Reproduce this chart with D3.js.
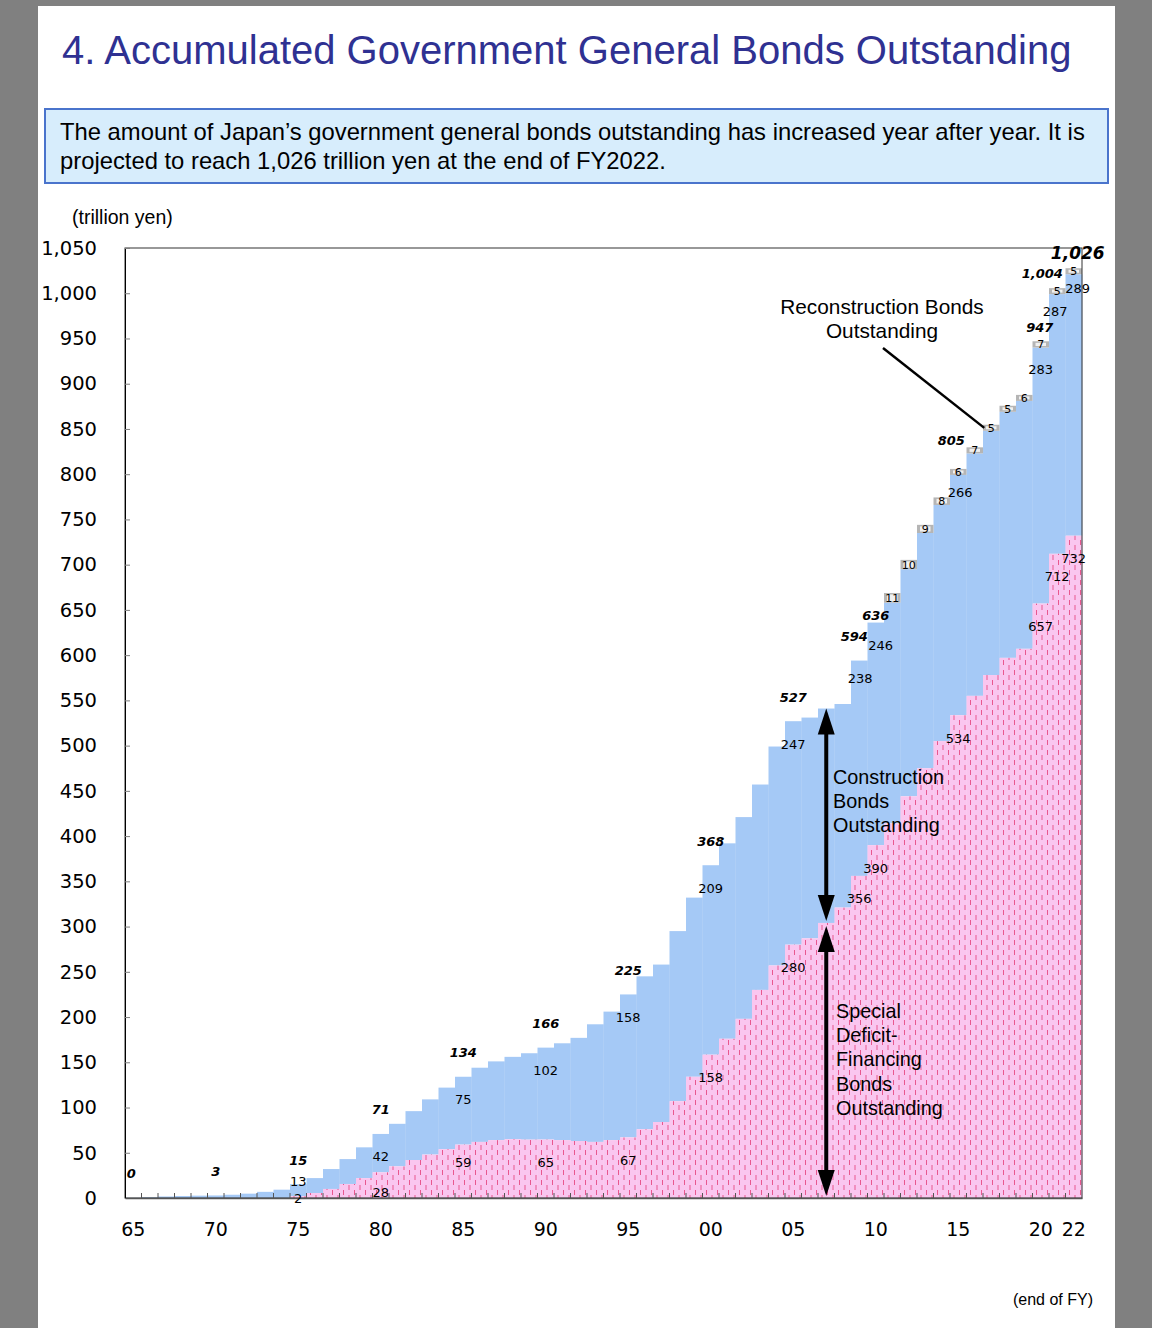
<!DOCTYPE html>
<html>
<head>
<meta charset="utf-8">
<script src="https://cdn.jsdelivr.net/npm/d3@7"></script>
<style>
  html, body { margin: 0; padding: 0; background: #808080; }
  svg { display: block; }
</style>
</head>
<body>
<svg id="chart" width="1152" height="1328"></svg>
<script>
// fiscal years, end of FY
const years = [1965, 1966, 1967, 1968, 1969, 1970, 1971, 1972, 1973, 1974,
  1975, 1976, 1977, 1978, 1979, 1980, 1981, 1982, 1983, 1984,
  1985, 1986, 1987, 1988, 1989, 1990, 1991, 1992, 1993, 1994,
  1995, 1996, 1997, 1998, 1999, 2000, 2001, 2002, 2003, 2004,
  2005, 2006, 2007, 2008, 2009, 2010, 2011, 2012, 2013, 2014,
  2015, 2016, 2017, 2018, 2019, 2020, 2021, 2022];

// special deficit-financing bonds (trillion yen)
const deficitBonds = [0, 0, 0, 0, 0, 0, 0, 0, 0, 0,
  2.1, 5.5, 10, 15.5, 22, 28.4, 35, 42, 48, 54,
  59, 62, 64, 65, 64.5, 64.6, 64, 63, 62, 64,
  67, 76, 84, 107, 134, 158.4, 176, 198, 230, 257,
  280, 287, 304, 321, 356, 390, 414, 444, 475, 505,
  533.6, 555, 578, 597, 607, 657, 712, 732];

// construction bonds
const constructionBonds = [0.2, 0.9, 1.7, 2.2, 2.6, 2.8, 3.6, 4.8, 6.8, 9.2,
  13.2, 16.5, 22, 27.5, 34, 42.4, 47, 54, 61, 68,
  75, 82, 87, 91, 95.5, 101.6, 107, 114, 130, 142,
  158, 169, 174, 188, 198, 209.4, 216, 223, 227, 242,
  247, 244, 237, 225, 238, 246, 244, 251, 260, 261,
  265.6, 268, 270, 272, 274, 283, 287, 289];

// reconstruction bonds
const reconstructionBonds = [0, 0, 0, 0, 0, 0, 0, 0, 0, 0,
  0, 0, 0, 0, 0, 0, 0, 0, 0, 0,
  0, 0, 0, 0, 0, 0, 0, 0, 0, 0,
  0, 0, 0, 0, 0, 0, 0, 0, 0, 0,
  0, 0, 0, 0, 0, 0, 10.7, 10.3, 9.0, 8.3,
  5.9, 6.7, 5.4, 5.4, 6.1, 6.9, 5.2, 5.0];

const yTicks = [0, 50, 100, 150, 200, 250, 300, 350, 400, 450, 500, 550,
  600, 650, 700, 750, 800, 850, 900, 950, 1000, 1050];
const xLabelYears = [1965, 1970, 1975, 1980, 1985, 1990, 1995, 2000, 2005, 2010, 2015, 2020, 2022];

const totalLabelYears = [1965, 1970, 1975, 1980, 1985, 1990, 1995, 2000, 2005, 2009, 2010, 2015, 2020, 2021, 2022];
const constructionLabelYears = [1975, 1980, 1985, 1990, 1995, 2000, 2005, 2009, 2010, 2015, 2020, 2021, 2022];
const deficitLabelYears = [1975, 1980, 1985, 1990, 1995, 2000, 2005, 2009, 2010, 2015, 2020, 2021, 2022];
const arrowYear = 2007;
const leaderYear = 2017;

// label nudges (px) where the default spot collides
const totalNudge = {1965: [-2, 0], 2009: [-5, 0], 2010: [0, 17], 2015: [-7, -5], 2020: [-1, 10], 2021: [-15, 8], 2022: [4, 7]};
const consNudge = {1975: [0, -26], 2009: [1, -5], 2010: [5, 0], 2015: [2, 0], 2020: [0, 5], 2021: [-2, -1], 2022: [4, -4]};
const defNudge = {1975: [0, -21], 1980: [0, -3], 1985: [0, -5]};

const svg = d3.select('#chart');

// page card
svg.append('rect').attr('x', 38).attr('y', 6).attr('width', 1077).attr('height', 1322).attr('fill', '#fff');

svg.append('text')
  .attr('x', 62).attr('y', 64)
  .attr('font-family', 'Liberation Sans, Arial, sans-serif')
  .attr('font-size', 40)
  .attr('fill', '#2f3192')
  .text('4. Accumulated Government General Bonds Outstanding');

svg.append('rect')
  .attr('x', 45).attr('y', 109).attr('width', 1063).attr('height', 74)
  .attr('fill', '#d7edfc').attr('stroke', '#4a74cc').attr('stroke-width', 2);

const intro = svg.append('text')
  .attr('font-family', 'Liberation Sans, Arial, sans-serif')
  .attr('font-size', 23.8).attr('fill', '#000');
intro.append('tspan').attr('x', 60).attr('y', 140)
  .text('The amount of Japan\u2019s government general bonds outstanding has increased year after year. It is');
intro.append('tspan').attr('x', 60).attr('y', 169)
  .text('projected to reach 1,026 trillion yen at the end of FY2022.');

svg.append('text')
  .attr('x', 72).attr('y', 224)
  .attr('font-family', 'Liberation Sans, Arial, sans-serif')
  .attr('font-size', 19.5)
  .text('(trillion yen)');

const plot = {left: 125, right: 1082, top: 248, bottom: 1198};

const x = d3.scaleBand().domain(years).range([plot.left, plot.right]).padding(0);
const y = d3.scaleLinear().domain([0, 1050]).range([plot.bottom, plot.top]);

// pink fill with staggered vertical dashes
const defs = svg.append('defs');
const pat = defs.append('pattern')
  .attr('id', 'deficitPattern')
  .attr('patternUnits', 'userSpaceOnUse')
  .attr('width', 11).attr('height', 10);
pat.append('rect').attr('width', 11).attr('height', 10).attr('fill', '#fac6ef');
pat.append('line').attr('x1', 2.5).attr('x2', 2.5).attr('y1', 0).attr('y2', 5)
  .attr('stroke', '#e8588f').attr('stroke-width', 1);
pat.append('line').attr('x1', 8).attr('x2', 8).attr('y1', 5).attr('y2', 10)
  .attr('stroke', '#e8588f').attr('stroke-width', 1);

const rows = years.map((yr, i) => ({
  year: yr,
  deficit: deficitBonds[i],
  construction: constructionBonds[i],
  recon: reconstructionBonds[i],
  total: deficitBonds[i] + constructionBonds[i] + reconstructionBonds[i]
}));
const byYear = {};
rows.forEach(d => { byYear[d.year] = d; });

const bars = svg.append('g');

// construction (drawn from deficit top up)
bars.selectAll('rect.cons').data(rows).join('rect')
  .attr('class', 'cons')
  .attr('x', d => x(d.year))
  .attr('width', x.bandwidth() + 0.3)
  .attr('y', d => y(d.deficit + d.construction))
  .attr('height', d => y(d.deficit) - y(d.deficit + d.construction))
  .attr('fill', '#a5c9f6');

bars.selectAll('rect.def').data(rows.filter(d => d.deficit > 0)).join('rect')
  .attr('class', 'def')
  .attr('x', d => x(d.year))
  .attr('width', x.bandwidth() + 0.3)
  .attr('y', d => y(d.deficit))
  .attr('height', d => y(0) - y(d.deficit))
  .attr('fill', 'url(#deficitPattern)');

// reconstruction boxes, kept at least 6px tall so the figure fits
const reconRows = rows.filter(d => d.recon > 0);
const recTop = d => Math.min(y(d.total), y(d.total - d.recon) - 6);
bars.selectAll('rect.rec').data(reconRows).join('rect')
  .attr('class', 'rec')
  .attr('x', d => x(d.year))
  .attr('width', x.bandwidth())
  .attr('y', recTop)
  .attr('height', d => y(d.total - d.recon) - recTop(d))
  .attr('fill', '#b5b5b5');
bars.selectAll('rect.recin').data(reconRows).join('rect')
  .attr('class', 'recin')
  .attr('x', d => x(d.year) + 3)
  .attr('width', x.bandwidth() - 6)
  .attr('y', d => recTop(d) + 1.5)
  .attr('height', d => Math.max(0, y(d.total - d.recon) - recTop(d) - 3))
  .attr('fill', '#f0f0f0');

// frame
svg.append('rect')
  .attr('x', plot.left).attr('y', plot.top)
  .attr('width', plot.right - plot.left).attr('height', plot.bottom - plot.top)
  .attr('fill', 'none').attr('stroke', '#333').attr('stroke-width', 1);

// y axis
const yAxis = svg.append('g')
  .attr('transform', `translate(${plot.left},0)`)
  .call(d3.axisLeft(y).tickValues(yTicks).tickSizeInner(-5).tickSizeOuter(0)
    .tickPadding(28).tickFormat(d3.format(',')));
yAxis.select('.domain').attr('stroke', '#000');
yAxis.selectAll('.tick line').attr('stroke', '#808080');
yAxis.selectAll('.tick text')
  .attr('font-family', 'DejaVu Sans, Verdana, sans-serif')
  .attr('font-size', 19.5).attr('fill', '#000');

// x axis
const xAxis = svg.append('g')
  .attr('transform', `translate(0,${plot.bottom})`)
  .call(d3.axisBottom(x).tickValues(xLabelYears).tickSize(0).tickPadding(25)
    .tickFormat(d => String(d).slice(2)));
xAxis.select('.domain').attr('stroke', '#555').attr('stroke-width', 1.5);
xAxis.selectAll('.tick text')
  .attr('font-family', 'DejaVu Sans, Verdana, sans-serif')
  .attr('font-size', 19).attr('fill', '#000');

svg.append('g').selectAll('line').data(years.slice(1)).join('line')
  .attr('x1', d => x(d)).attr('x2', d => x(d))
  .attr('y1', plot.bottom).attr('y2', plot.bottom - 5)
  .attr('stroke', '#555').attr('stroke-width', 1);

svg.append('text')
  .attr('x', 1053).attr('y', 1305)
  .attr('text-anchor', 'middle')
  .attr('font-family', 'Liberation Sans, Arial, sans-serif')
  .attr('font-size', 16)
  .text('(end of FY)');

// value labels
const fmt = d3.format(',.0f');
const labels = svg.append('g')
  .attr('font-family', 'DejaVu Sans, Verdana, sans-serif')
  .attr('text-anchor', 'middle')
  .attr('dominant-baseline', 'central');

const mid = yr => x(yr) + x.bandwidth() / 2;
const nud = (tbl, yr) => tbl[yr] || [0, 0];

labels.selectAll('text.tot').data(totalLabelYears).join('text')
  .attr('class', 'tot')
  .attr('x', yr => mid(yr) + nud(totalNudge, yr)[0])
  .attr('y', yr => y(byYear[yr].total) - 24 + nud(totalNudge, yr)[1])
  .attr('font-size', yr => yr === 2022 ? 17 : 13)
  .attr('font-weight', 'bold').attr('font-style', 'italic')
  .text(yr => fmt(byYear[yr].total));

labels.selectAll('text.cons').data(constructionLabelYears).join('text')
  .attr('class', 'cons')
  .attr('x', yr => mid(yr) + nud(consNudge, yr)[0])
  .attr('y', yr => y(byYear[yr].total) + 23 + nud(consNudge, yr)[1])
  .attr('font-size', 13)
  .text(yr => fmt(byYear[yr].construction));

labels.selectAll('text.def').data(deficitLabelYears).join('text')
  .attr('class', 'def')
  .attr('x', yr => mid(yr) + nud(defNudge, yr)[0])
  .attr('y', yr => y(byYear[yr].deficit) + 23 + nud(defNudge, yr)[1])
  .attr('font-size', 13)
  .text(yr => fmt(byYear[yr].deficit));

labels.selectAll('text.rec').data(reconRows).join('text')
  .attr('class', 'rec')
  .attr('x', d => mid(d.year))
  .attr('y', d => (recTop(d) + y(d.total - d.recon)) / 2 + 0.5)
  .attr('font-size', 11)
  .text(d => fmt(d.recon));

// double arrows at FY2007
function arrow(xp, yTop, yBot) {
  const g = svg.append('g');
  g.append('line').attr('x1', xp).attr('x2', xp).attr('y1', yTop + 14).attr('y2', yBot - 14)
    .attr('stroke', '#000').attr('stroke-width', 4);
  g.append('path').attr('d', `M${xp},${yTop} L${xp - 8.5},${yTop + 26} L${xp + 8.5},${yTop + 26} Z`).attr('fill', '#000');
  g.append('path').attr('d', `M${xp},${yBot} L${xp - 8.5},${yBot - 26} L${xp + 8.5},${yBot - 26} Z`).attr('fill', '#000');
}
const ax = mid(arrowYear);
arrow(ax, y(byYear[arrowYear].total), y(byYear[arrowYear].deficit) - 2);
arrow(ax, y(byYear[arrowYear].deficit) + 3, y(0) - 2);

const note = (lines, x0, y0, anchor, size) => {
  const t = svg.append('text')
    .attr('font-family', 'Liberation Sans, Arial, sans-serif')
    .attr('font-size', size).attr('text-anchor', anchor);
  lines.forEach((s, i) => t.append('tspan').attr('x', x0).attr('y', y0 + i * 24.2).text(s));
};
note(['Construction', 'Bonds', 'Outstanding'], 833, 784, 'start', 19.8);
note(['Special', 'Deficit-', 'Financing', 'Bonds', 'Outstanding'], 836, 1018, 'start', 19.8);
note(['Reconstruction Bonds', 'Outstanding'], 882, 314, 'middle', 20.8);

svg.append('line')
  .attr('x1', 883).attr('y1', 348)
  .attr('x2', mid(leaderYear) - 7).attr('y2', y(byYear[leaderYear].total) + 2)
  .attr('stroke', '#000').attr('stroke-width', 2.5);
</script>
</body>
</html>
